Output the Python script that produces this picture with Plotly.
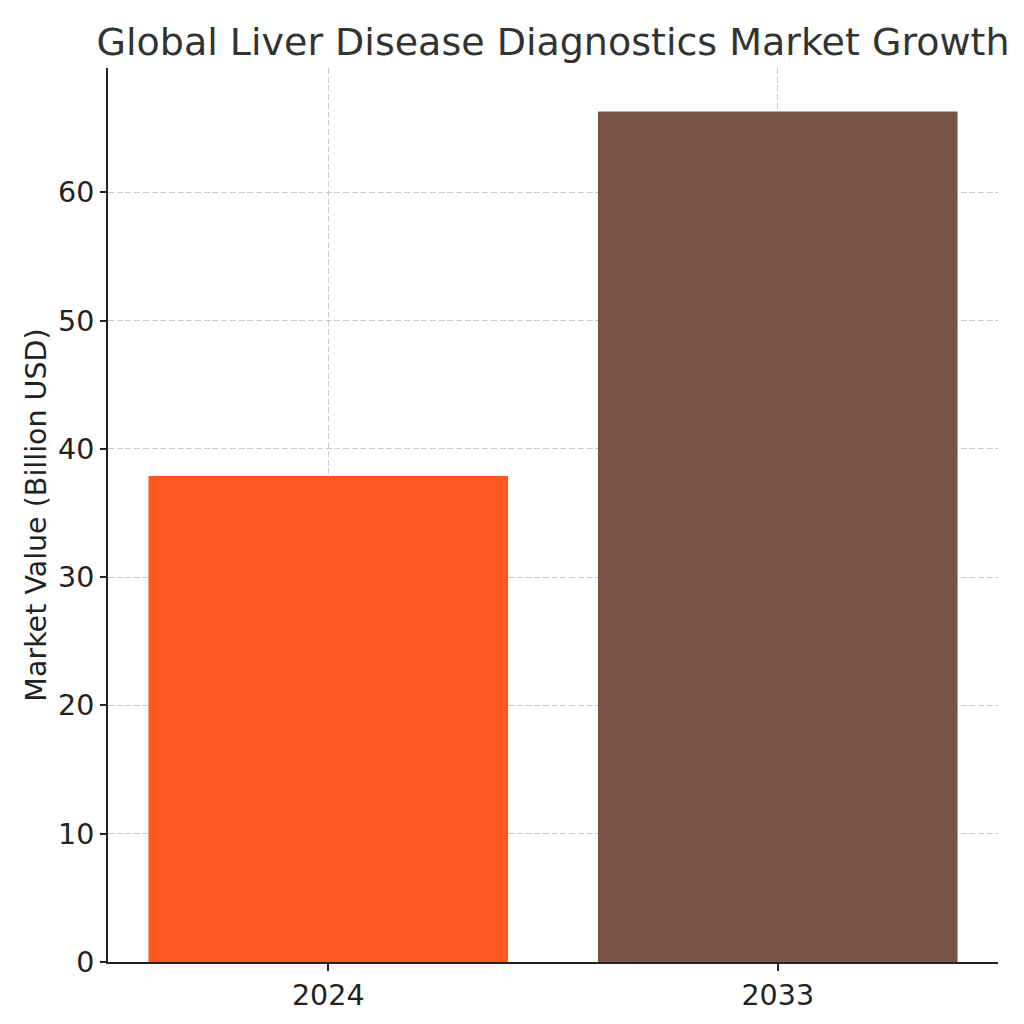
import plotly.graph_objects as go

years = ["2024", "2033"]
values = [37.9, 66.3]
colors = ["#FF5722", "#795548"]
y_ticks = [0, 10, 20, 30, 40, 50, 60]

fig = go.Figure()
fig.add_trace(go.Bar(x=years, y=values, marker=dict(color=colors, line=dict(width=0)),
                     width=0.8))

font = "DejaVu Sans, Verdana, sans-serif"
grid = "rgba(185,185,185,0.75)"
fig.update_layout(
    width=1024, height=1024,
    margin=dict(l=100, r=34, t=60, b=70),
    paper_bgcolor="white", plot_bgcolor="white",
    showlegend=False,
    title=dict(text="Global Liver Disease Diagnostics Market Growth",
               x=545 / 1024, xanchor="center",
               y=1 - 34 / 1024, yanchor="middle",
               font=dict(family=font, size=38, color="#333333")),
    font=dict(family=font, color="#222222"),
)
fig.update_xaxes(
    type="category", range=[-0.49, 1.49],
    showline=True, linecolor="#222222", linewidth=2,
    ticks="outside", ticklen=7, tickwidth=1.6, tickcolor="#222222",
    tickfont=dict(size=28.5, family=font, color="#222222"),
    showgrid=True, gridcolor=grid, griddash="6px,2.7px", gridwidth=1.2,
    layer="above traces", zeroline=False,
)
fig.update_yaxes(
    range=[0, 69.7], tickvals=y_ticks,
    showline=True, linecolor="#222222", linewidth=2,
    ticks="outside", ticklen=6, tickwidth=1.6, tickcolor="#222222",
    tickfont=dict(size=28.5, family=font, color="#222222"),
    showgrid=True, gridcolor=grid, griddash="6px,2.7px", gridwidth=1.2,
    layer="above traces", zeroline=False,
    title=dict(text="Market Value (Billion USD)", font=dict(size=28.5, family=font, color="#222222"),
               standoff=3),
)

fig.write_html("out.html")
